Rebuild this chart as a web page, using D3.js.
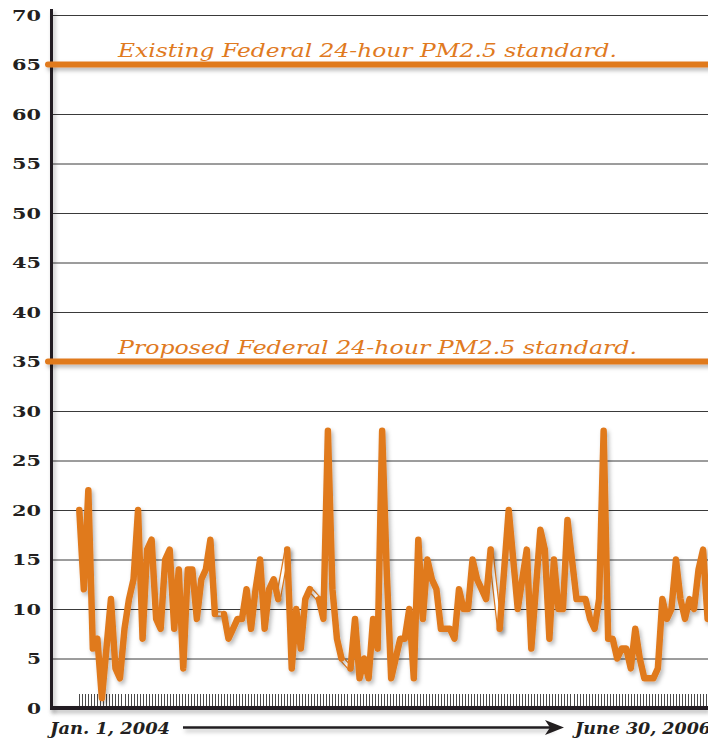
<!DOCTYPE html>
<html>
<head>
<meta charset="utf-8">
<style>
    body { margin: 0; background: #fff; }
    svg { display: block; }
    .tick-label { font-family: 'DejaVu Serif', serif; font-weight: bold; font-size: 15px; fill: #231f20; }
    .std-label { font-family: 'DejaVu Serif', serif; font-style: italic; font-size: 18px; fill: #e07a1f; }
    .date-label { font-family: 'DejaVu Serif', serif; font-style: italic; font-weight: bold; font-size: 17px; fill: #231f20; }
</style>
</head>
<body>
<svg width="708" height="739"></svg>

<script src="https://d3js.org/d3.v7.min.js"></script>
<script>
    // PM2.5 readings, one per sample (null = missing sample, bridged with a white segment)
    const pm25 = [
        20, 12, 22, 6, 7, 1, 6, 11, 4, 3,
        8, 11, 13, 20, 7, 16, 17, 9, 8, 15,
        16, 8, 14, 4, 14, 14, 9, 13, 14, 17,
        9.5, null, 9.5, 7, 8, 9, 9, 12, 8, 12,
        15, 8, 12, 13, 11, null, 16, 4, 10, 6,
        11, 12, null, 11, 9, 28, 12, 7, 5, null,
        4, 9, 3, 5, 3, 9, 6, 28, 14, 3,
        5, 7, 7, 10, 3, 17, 9, 15, 13, 12,
        8, 8, 8, 7, 12, 10, 10, 15, 13, 12,
        11, 16, null, 8, 14, 20, 15, 10, 13, 16,
        6, 12, 18, 16, 7, 15, 10, 10, 19, 15,
        11, 11, 11, 9, 8, 11, 28, 7, 7, 5,
        6, 6, 4, 8, 5, 3, 3, 3, 4, 11,
        9, 10, 15, 11, 9, 11, 10, 14, 16, 9
    ];
    const yTicks = [0, 5, 10, 15, 20, 25, 30, 35, 40, 45, 50, 55, 60, 65, 70];
    const standards = [
        { value: 65, label: "Existing Federal 24-hour PM2.5 standard." },
        { value: 35, label: "Proposed Federal 24-hour PM2.5 standard." }
    ];
    const startLabel = "Jan. 1, 2004";
    const endLabel = "June 30, 2006";

    const orange = "#e07a1f";
    const ink = "#231f20";
    const width = 708;
    const height = 739;
    const axisX = 52;
    const axisY = 708;

    const svg = d3.select("svg");

    // soft drop shadow; user space so flat lines don't lose their filter region
    const defs = svg.append("defs");
    const shadow = defs.append("filter")
        .attr("id", "shadow")
        .attr("filterUnits", "userSpaceOnUse")
        .attr("x", 0).attr("y", 0)
        .attr("width", width + 20).attr("height", height);
    shadow.append("feDropShadow")
        .attr("dx", 2).attr("dy", 3)
        .attr("stdDeviation", 2)
        .attr("flood-color", "#000")
        .attr("flood-opacity", 0.28);

    const x = d3.scaleLinear()
        .domain([0, pm25.length - 1])
        .range([79.3, 707.6]);

    const y = d3.scaleLinear()
        .domain([0, 70])
        .range([axisY, 15]);

    // gridlines + labels
    const yAxis = d3.axisLeft(y)
        .tickValues(yTicks)
        .tickSize(-(width - axisX))
        .tickPadding(11)
        .tickFormat(d3.format("d"));

    const gy = svg.append("g")
        .attr("transform", `translate(${axisX},0)`)
        .call(yAxis);
    gy.select(".domain").remove();
    gy.selectAll(".tick line")
        .attr("stroke", "#3a3a3a")
        .attr("stroke-width", 1)
        .attr("opacity", d => d === 0 ? 0 : 1);
    gy.selectAll(".tick text")
        .attr("class", "tick-label")
        .attr("dy", "0.36em")
        .attr("textLength", d => d >= 10 ? 29 : 14)
        .attr("lengthAdjust", "spacingAndGlyphs");

    // small ticks along the bottom
    svg.append("g")
        .selectAll("line")
        .data(d3.range(0, pm25.length - 0.5, 2 / 3))
        .join("line")
        .attr("x1", d => Math.round(x(d)) + 0.5)
        .attr("x2", d => Math.round(x(d)) + 0.5)
        .attr("y1", 694)
        .attr("y2", 707)
        .attr("stroke", "#4a4a4a")
        .attr("stroke-width", 1);

    // axes
    svg.append("line")
        .attr("x1", 51.5).attr("x2", 51.5)
        .attr("y1", 9).attr("y2", 710)
        .attr("stroke", ink)
        .attr("stroke-width", 3)
        .attr("filter", "url(#shadow)");

    svg.append("line")
        .attr("x1", 50).attr("x2", width)
        .attr("y1", axisY).attr("y2", axisY)
        .attr("stroke", ink)
        .attr("stroke-width", 4)
        .attr("filter", "url(#shadow)");

    // standard lines
    svg.append("g")
        .selectAll("line")
        .data(standards)
        .join("line")
        .attr("x1", 48).attr("x2", width + 10)
        .attr("y1", d => y(d.value))
        .attr("y2", d => y(d.value))
        .attr("stroke", orange)
        .attr("stroke-width", 6)
        .attr("stroke-linecap", "round")
        .attr("filter", "url(#shadow)");

    svg.append("g")
        .selectAll("text")
        .data(standards)
        .join("text")
        .attr("class", "std-label")
        .attr("x", 118)
        .attr("y", d => y(d.value) - 8)
        .attr("textLength", d => d.value === 65 ? 499 : 519)
        .attr("lengthAdjust", "spacingAndGlyphs")
        .text(d => d.label);

    // bridges over missing samples
    const gaps = [];
    pm25.forEach((v, i) => {
        if (v === null) {
            let a = i - 1, b = i + 1;
            while (pm25[b] === null) b++;
            gaps.push([[a, pm25[a]], [b, pm25[b]]]);
        }
    });

    const gapLine = d3.line()
        .x(d => x(d[0]))
        .y(d => y(d[1]));

    const gapG = svg.append("g");
    gapG.selectAll(".gap-out")
        .data(gaps)
        .join("path")
        .attr("class", "gap-out")
        .attr("d", gapLine)
        .attr("fill", "none")
        .attr("stroke", orange)
        .attr("stroke-width", 5.5)
        .attr("stroke-linecap", "round")
        .attr("filter", "url(#shadow)");
    gapG.selectAll(".gap-in")
        .data(gaps)
        .join("path")
        .attr("class", "gap-in")
        .attr("d", gapLine)
        .attr("fill", "none")
        .attr("stroke", "#fff")
        .attr("stroke-width", 3)
        .attr("stroke-linecap", "round");

    // data line
    const line = d3.line()
        .defined(d => d !== null)
        .x((d, i) => x(i))
        .y(d => y(d));

    svg.append("path")
        .datum(pm25)
        .attr("d", line)
        .attr("fill", "none")
        .attr("stroke", orange)
        .attr("stroke-width", 6.5)
        .attr("stroke-linejoin", "round")
        .attr("stroke-linecap", "round")
        .attr("filter", "url(#shadow)");

    // date labels and arrow
    svg.append("text")
        .attr("class", "date-label")
        .attr("x", 50).attr("y", 734)
        .attr("textLength", 120)
        .attr("lengthAdjust", "spacingAndGlyphs")
        .text(startLabel);

    svg.append("text")
        .attr("class", "date-label")
        .attr("x", 575).attr("y", 734)
        .attr("textLength", 136)
        .attr("lengthAdjust", "spacingAndGlyphs")
        .text(endLabel);

    svg.append("line")
        .attr("x1", 183).attr("x2", 552)
        .attr("y1", 727.5).attr("y2", 727.5)
        .attr("stroke", ink)
        .attr("stroke-width", 2.5)
        .attr("filter", "url(#shadow)");

    svg.append("path")
        .attr("d", "M545,720 L564,727.5 L545,735 L550,727.5 Z")
        .attr("fill", ink);
</script>
</body>
</html>
